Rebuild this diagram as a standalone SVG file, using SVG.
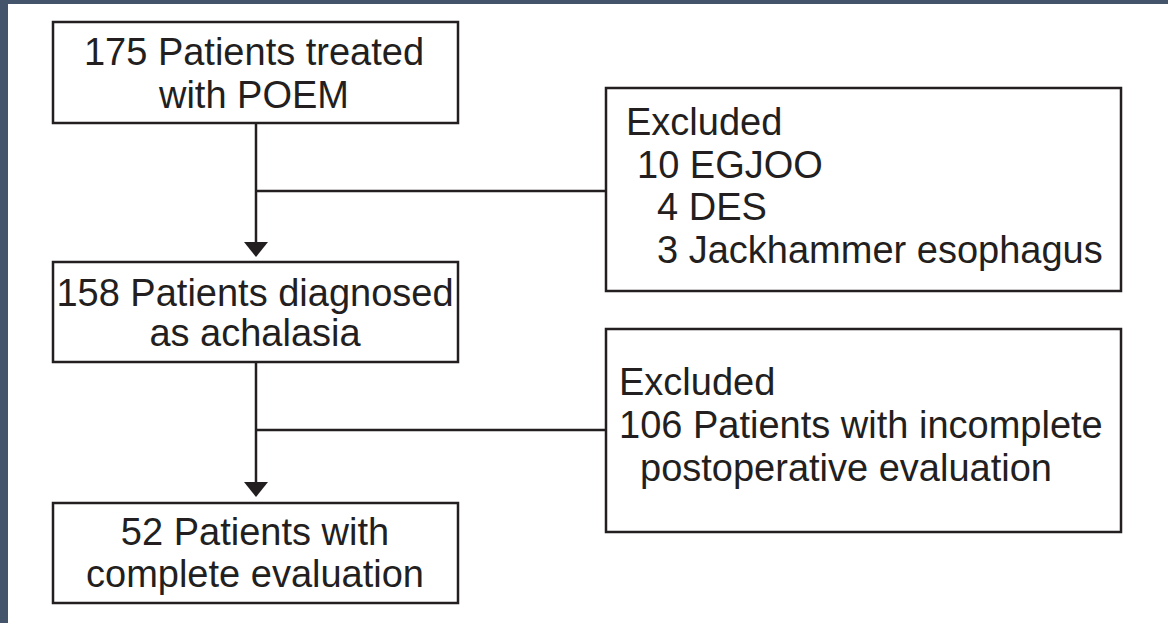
<svg xmlns="http://www.w3.org/2000/svg" width="1168" height="623" viewBox="0 0 1168 623">
  <style>
    .box { fill: #ffffff; stroke: #231f20; stroke-width: 2.5; }
    .line { fill: none; stroke: #231f20; stroke-width: 2.5; }
    .t { font-family: "Liberation Sans", Arial, sans-serif; font-size: 38px; fill: #231f20; }
    .c { text-anchor: middle; }
  </style>
  <rect x="0" y="0" width="1168" height="623" fill="#ffffff"/>
  <rect x="0" y="0" width="1168" height="4" fill="#44546a"/>
  <rect x="0" y="0" width="8" height="623" fill="#44546a"/>

  <g id="connectors">
    <line class="line" x1="256" y1="123" x2="256" y2="245"/>
    <polygon points="244,242 268,242 256,257" fill="#231f20"/>
    <line class="line" x1="256" y1="191" x2="606" y2="191"/>
    <line class="line" x1="256" y1="362" x2="256" y2="485"/>
    <polygon points="244,482 268,482 256,497" fill="#231f20"/>
    <line class="line" x1="256" y1="430" x2="606" y2="430"/>
  </g>

  <g id="node-treated">
    <rect class="box" x="53" y="22" width="405" height="101"/>
    <text class="t c" x="254" y="65">175 Patients treated</text>
    <text class="t c" x="254" y="108">with POEM</text>
  </g>

  <g id="node-diagnosed">
    <rect class="box" x="53" y="262" width="405" height="100"/>
    <text class="t c" x="255" y="306">158 Patients diagnosed</text>
    <text class="t c" x="255" y="346">as achalasia</text>
  </g>

  <g id="node-complete">
    <rect class="box" x="53" y="503" width="405" height="100"/>
    <text class="t c" x="255" y="545">52 Patients with</text>
    <text class="t c" x="255" y="587">complete evaluation</text>
  </g>

  <g id="node-excluded1">
    <rect class="box" x="606" y="88" width="515" height="203"/>
    <text class="t" x="626" y="135">Excluded</text>
    <text class="t" x="637" y="178">10 EGJOO</text>
    <text class="t" x="657" y="220">4 DES</text>
    <text class="t" x="657" y="263">3 Jackhammer esophagus</text>
  </g>

  <g id="node-excluded2">
    <rect class="box" x="606" y="329" width="515" height="203"/>
    <text class="t" x="619" y="395">Excluded</text>
    <text class="t" x="619" y="438">106 Patients with incomplete</text>
    <text class="t" x="640" y="481">postoperative evaluation</text>
  </g>
</svg>
